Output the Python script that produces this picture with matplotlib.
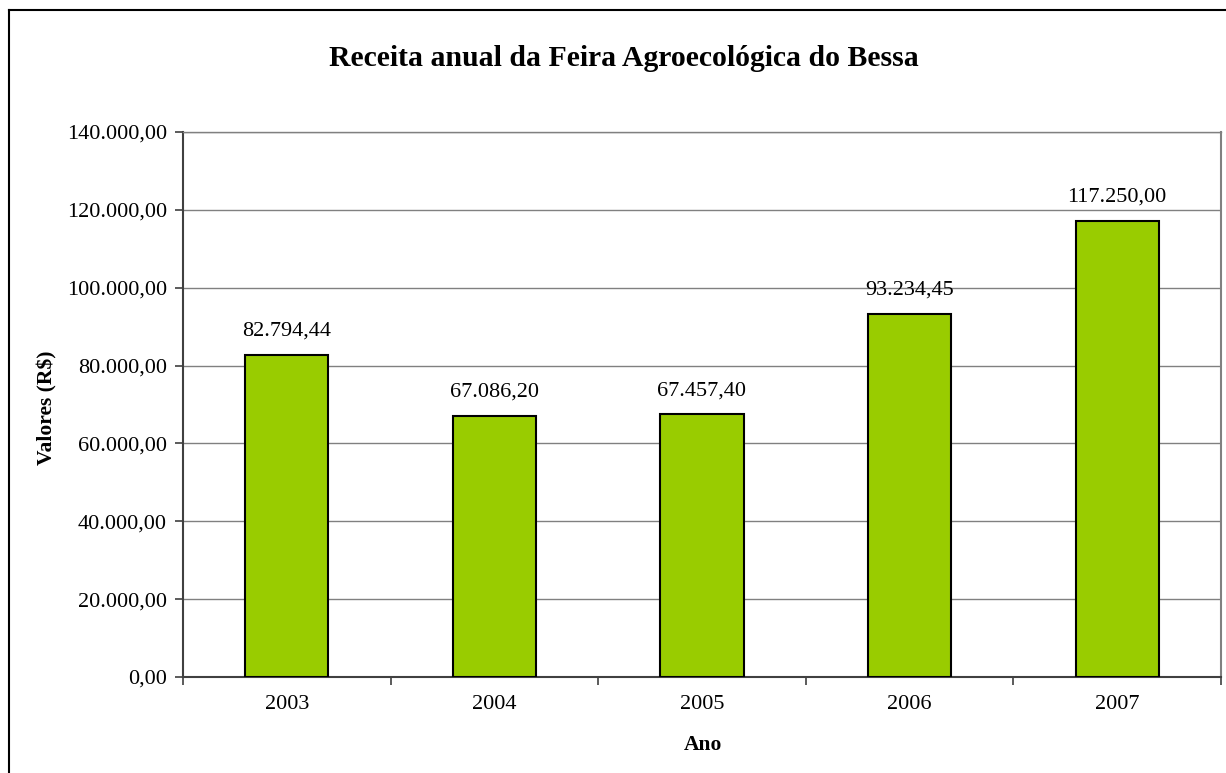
import matplotlib
matplotlib.use("Agg")
import matplotlib.pyplot as plt
from matplotlib.ticker import FuncFormatter, MultipleLocator
from matplotlib.lines import Line2D

years = ["2003", "2004", "2005", "2006", "2007"]
values = [82794.44, 67086.20, 67457.40, 93234.45, 117250.00]
labels = ["82.794,44", "67.086,20", "67.457,40", "93.234,45", "117.250,00"]

plt.rcParams['font.family'] = ['Liberation Serif', 'DejaVu Serif']

fig = plt.figure(figsize=(12.26, 7.73), dpi=100)
ax = fig.add_axes([183/1226, 1-677/773, (1221-183)/1226, (677-132)/773])

x = list(range(len(years)))
bars = ax.bar(x, values, width=0.4, color='#99CC00', edgecolor='black', linewidth=1.5, zorder=3)

def fmt(v, pos):
    s = f"{v:,.2f}"
    return s.replace(",", "X").replace(".", ",").replace("X", ".")

ax.set_ylim(0, 140000)
ax.set_xlim(-0.5, 4.5)
ax.yaxis.set_major_locator(MultipleLocator(20000))
ax.yaxis.set_major_formatter(FuncFormatter(fmt))
ax.grid(axis='y', color='#808080', linewidth=1, zorder=0)
ax.set_axisbelow(True)

ax.set_xticks(x)
ax.set_xticklabels(years)
ax.set_xticks([i + 0.5 for i in range(-1, 5)], minor=True)
ax.tick_params(axis='x', which='major', length=0, labelsize=16, pad=13)
ax.tick_params(axis='x', which='minor', length=6, width=1.2, color='#404040', direction='out')
ax.tick_params(axis='y', length=6, width=1.2, color='#404040', labelsize=16, pad=5.5)

for s in ['left', 'bottom']:
    ax.spines[s].set_color('#404040')
    ax.spines[s].set_linewidth(1.5)
ax.spines['top'].set_color('#808080')
ax.spines['top'].set_linewidth(1)
ax.spines['right'].set_color('#808080')
ax.spines['right'].set_linewidth(1.5)

for i, (v, lab) in enumerate(zip(values, labels)):
    ax.annotate(lab, (i, v), xytext=(0, 17), textcoords='offset points',
                ha='center', va='center', fontsize=16)

fig.text(47/1226, 1-408/773, "Valores (R$)", rotation=90, ha='center', va='center',
         fontsize=15.5, fontweight='bold')
fig.text(703/1226, 1-745/773, "Ano", ha='center', va='center',
         fontsize=15.5, fontweight='bold')

fig.text(624/1226, 1-59/773, "Receita anual da Feira Agroecológica do Bessa",
         ha='center', va='center', fontsize=21.4, fontweight='bold')

# outer chart border
fig.add_artist(Line2D([9/1226, 9/1226], [0, 1-10/773], transform=fig.transFigure, color='black', linewidth=1.5))
fig.add_artist(Line2D([9/1226, 1], [1-10/773, 1-10/773], transform=fig.transFigure, color='black', linewidth=1.5))

fig.savefig("out.png", dpi=100)
